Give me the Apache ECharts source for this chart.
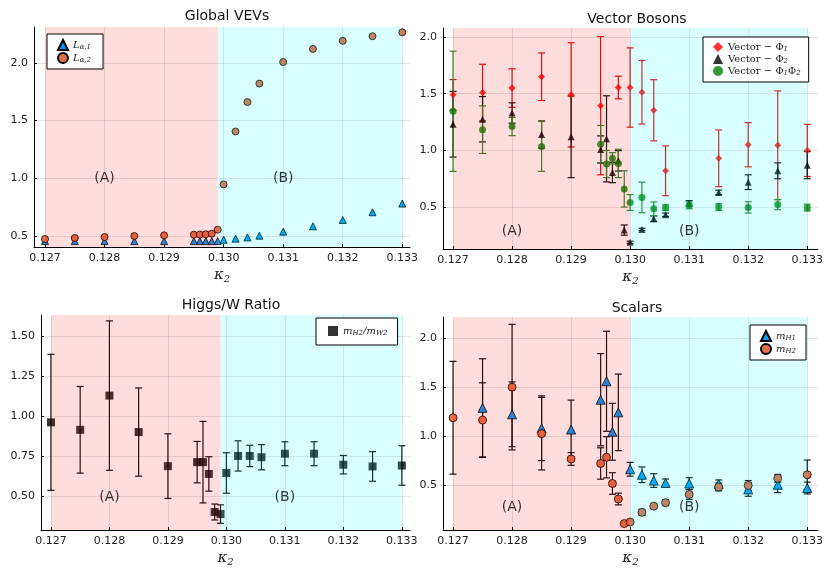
<!DOCTYPE html>
<html>
<head>
<meta charset="utf-8">
<script src="https://cdn.jsdelivr.net/npm/echarts@6/dist/echarts.min.js"></script>
<style>
  html, body { margin: 0; padding: 0; background: #ffffff; }
  #chart { width: 826px; height: 568px; }
</style>
</head>
<body>
<div id="chart"></div>
<script>
// kappa_2 values (shared by all panels)
const kappa = [0.127, 0.1275, 0.128, 0.1285, 0.129, 0.1295, 0.1296, 0.1297, 0.1298, 0.1299,
  0.130, 0.1302, 0.1304, 0.1306, 0.131, 0.1315, 0.132, 0.1325, 0.133];

// Global VEVs
const vevL1 = [0.456, 0.456, 0.456, 0.456, 0.456, 0.456, 0.456, 0.456, 0.456, 0.457,
  0.468, 0.477, 0.488, 0.503, 0.538, 0.584, 0.639, 0.706, 0.781];
const vevL2 = [0.474, 0.483, 0.491, 0.500, 0.506, 0.512, 0.513, 0.515, 0.520, 0.555,
  0.947, 1.405, 1.66, 1.82, 2.006, 2.12, 2.19, 2.23, 2.264];

// Vector bosons
const vecPhi1 = [1.49, 1.51, 1.55, 1.65, 1.49, 1.395, null, null, 1.555, null,
  1.555, 1.513, 1.354, 0.82, null, 0.93, 1.05, 1.045, 1.0];
const vecPhi1Err = [0.135, 0.25, 0.17, 0.21, 0.46, 0.61, null, null, 0.1, null,
  0.35, 0.28, 0.27, 0.22, null, 0.25, 0.195, 0.48, 0.23];
const vecPhi2 = [1.231, 1.275, 1.33, 1.14, 1.12, 1.008, 1.102, 0.805, 0.908, 0.297,
  0.189, 0.303, 0.397, 0.432, 0.532, 0.629, 0.72, 0.82, 0.87];
const vecPhi2Err = [0.29, 0.2, 0.09, 0.12, 0.36, 0.12, 0.38, 0.09, 0.09, 0.045,
  0.01, 0.01, 0.025, 0.015, 0.025, 0.02, 0.065, 0.07, 0.12];
const vecPhi12 = [1.345, 1.183, 1.21, 1.035, null, 1.055, 0.88, 0.93, 0.885, 0.66,
  0.54, 0.585, 0.485, 0.495, 0.515, 0.5, 0.497, 0.522, 0.495];
const vecPhi12Err = [0.53, 0.21, 0.08, 0.22, null, 0.165, 0.12, 0.05, 0.125, 0.16,
  0.07, 0.135, 0.06, 0.025, 0.03, 0.03, 0.05, 0.045, 0.03];

// Higgs/W ratio
const ratio = [0.961, 0.914, 1.129, 0.9, 0.686, 0.711, 0.711, 0.637, 0.398, 0.385,
  0.643, 0.75, 0.75, 0.742, 0.764, 0.764, 0.695, 0.684, 0.69];
const ratioErr = [0.427, 0.272, 0.469, 0.277, 0.203, 0.13, 0.256, 0.108, 0.05, 0.058,
  0.127, 0.095, 0.067, 0.079, 0.075, 0.075, 0.058, 0.093, 0.124];

// Scalars
const mH1 = [null, 1.291, 1.225, 1.083, 1.07, 1.374, 1.562, 1.047, 1.245, null,
  0.665, 0.609, 0.55, 0.526, 0.52, 0.516, 0.46, 0.507, 0.474];
const mH1Err = [null, 0.5, 0.33, 0.33, 0.3, 0.47, 0.51, 0.29, 0.39, null,
  0.07, 0.08, 0.07, 0.04, 0.06, 0.04, 0.07, 0.08, 0.06];
const mH2 = [1.19, 1.166, 1.502, 1.028, 0.77, 0.724, 0.787, 0.52, 0.362, 0.111,
  0.127, 0.226, 0.289, 0.325, 0.408, 0.484, 0.5, 0.573, 0.609];
const mH2Err = [0.575, 0.38, 0.64, 0.37, 0.065, 0.16, 0.21, 0.11, 0.06, 0.01,
  0.01, 0.03, 0.02, 0.03, 0.05, 0.04, 0.05, 0.04, 0.15];

// ticks
const xTicks = [0.127, 0.128, 0.129, 0.130, 0.131, 0.132, 0.133];
const yTicksVev = [0.5, 1.0, 1.5, 2.0];
const yTicksVec = [0.5, 1.0, 1.5, 2.0];
const yTicksRatio = [0.50, 0.75, 1.00, 1.25, 1.50];
const yTicksScal = [0.5, 1.0, 1.5, 2.0];

// phase regions [start, end] per panel
const regionsVev = [[0.127, 0.1299], [0.1299, 0.133]];
const regionsVec = [[0.127, 0.130], [0.130, 0.133]];
const regionsRatio = [[0.127, 0.1299], [0.1299, 0.133]];
const regionsScal = [[0.127, 0.130], [0.130, 0.133]];

const FONT = 'DejaVu Sans';
const SERIF = 'DejaVu Serif';

const points = (v) => kappa.map((k, i) => v[i] == null ? null : [k, v[i]]).filter(Boolean);
const bars = (v, e) => kappa.map((k, i) => v[i] == null ? null : [k, v[i] - e[i], v[i] + e[i]]).filter(Boolean);

const chart = echarts.init(document.getElementById('chart'));

const grids = [
  { left: 34, top: 27, width: 376, height: 220 },
  { left: 443, top: 28, width: 378, height: 221 },
  { left: 41, top: 315, width: 369, height: 220 },
  { left: 443, top: 317, width: 378, height: 220 }
];
const xRanges = [[0.126815, 0.13313], [0.12683, 0.13318], [0.12683, 0.13314], [0.12683, 0.13318]];
const yRanges = [[0.405, 2.31], [0.13, 2.08], [0.285, 1.635], [0.046, 2.217]];
const yTicks = [yTicksVev, yTicksVec, yTicksRatio, yTicksScal];
const yDigits = [1, 1, 2, 1];

const xAxes = grids.map((g, i) => ({
  type: 'value',
  gridIndex: i,
  min: xRanges[i][0],
  max: xRanges[i][1],
  name: '{k|κ}{s|2}',
  nameLocation: 'middle',
  nameGap: 19,
  nameTextStyle: {
    rich: {
      k: { fontFamily: SERIF, fontStyle: 'italic', fontSize: 15, color: '#222' },
      s: { fontFamily: SERIF, fontStyle: 'italic', fontSize: 10, color: '#222', padding: [8, 0, 0, 0] }
    }
  },
  axisLine: { show: true, onZero: false, lineStyle: { color: '#000', width: 1 } },
  axisTick: { show: true, inside: true, length: 3, customValues: xTicks, lineStyle: { color: '#000' } },
  axisLabel: {
    customValues: xTicks,
    formatter: v => v.toFixed(3),
    fontFamily: FONT, fontSize: 11, color: '#222', margin: 6
  },
  splitLine: { show: true, lineStyle: { color: 'rgba(0,0,0,0.1)', width: 1 } }
}));

const yAxes = grids.map((g, i) => ({
  type: 'value',
  gridIndex: i,
  min: yRanges[i][0],
  max: yRanges[i][1],
  axisLine: { show: true, onZero: false, lineStyle: { color: '#000', width: 1 } },
  axisTick: { show: true, inside: true, length: 3, customValues: yTicks[i], lineStyle: { color: '#000' } },
  axisLabel: {
    customValues: yTicks[i],
    formatter: v => v.toFixed(yDigits[i]),
    fontFamily: FONT, fontSize: 11, color: '#222', margin: 6
  },
  splitLine: { show: true, lineStyle: { color: 'rgba(0,0,0,0.1)', width: 1 } }
}));

// error bar renderer
const errorBars = (idx, data, color) => ({
  type: 'custom',
  xAxisIndex: idx, yAxisIndex: idx,
  data: data,
  encode: { x: 0, y: [1, 2] },
  silent: true,
  z: 2,
  renderItem: (params, api) => {
    const lo = api.coord([api.value(0), api.value(1)]);
    const hi = api.coord([api.value(0), api.value(2)]);
    const w = 3.5;
    const style = { stroke: color, lineWidth: 1.2 };
    return {
      type: 'group',
      children: [
        { type: 'line', shape: { x1: lo[0], y1: lo[1], x2: hi[0], y2: hi[1] }, style },
        { type: 'line', shape: { x1: lo[0] - w, y1: lo[1], x2: lo[0] + w, y2: lo[1] }, style },
        { type: 'line', shape: { x1: hi[0] - w, y1: hi[1], x2: hi[0] + w, y2: hi[1] }, style }
      ]
    };
  }
});

// shaded regions drawn on top (semi-transparent)
const regionColors = ['rgba(255,0,0,0.135)', 'rgba(0,255,255,0.15)'];
const regions = (idx, data) => ({
  type: 'custom',
  xAxisIndex: idx, yAxisIndex: idx,
  data: data.map((r, j) => [r[0], r[1], j]),
  encode: { x: [0, 1] },
  silent: true,
  z: 10,
  renderItem: (params, api) => {
    const y0 = yRanges[idx][0];
    const a = api.coord([api.value(0), y0]);
    const b = api.coord([api.value(1), y0]);
    return {
      type: 'rect',
      shape: { x: a[0], y: params.coordSys.y, width: b[0] - a[0], height: params.coordSys.height },
      style: { fill: regionColors[api.value(2)] }
    };
  }
});

const scatter = (idx, name, data, symbol, size, color, extra) => Object.assign({
  type: 'scatter',
  name: name,
  xAxisIndex: idx, yAxisIndex: idx,
  data: data,
  symbol: symbol,
  symbolSize: size,
  z: 3,
  itemStyle: { color: color, borderColor: '#000', borderWidth: 0.8, opacity: 1 }
}, extra || {});

const phaseLabels = (idx, y) => ({
  type: 'scatter',
  xAxisIndex: idx, yAxisIndex: idx,
  symbolSize: 0,
  silent: true,
  z: 12,
  data: [{ name: '(A)', value: [0.128, y] }, { name: '(B)', value: [0.131, y] }],
  label: { show: true, position: 'inside', formatter: '{b}', fontFamily: FONT, fontSize: 14, color: '#000' }
});

const legendRich = {
  m: { fontFamily: SERIF, fontStyle: 'italic', fontSize: 10, color: '#222' },
  s: { fontFamily: SERIF, fontStyle: 'italic', fontSize: 7, color: '#222', padding: [5, 0, 0, 0] },
  r: { fontFamily: SERIF, fontSize: 10, color: '#222' }
};
const legendText = {
  'L1': '{m|L}{s|α,1}',
  'L2': '{m|L}{s|α,2}',
  'V1': '{r|Vector − Φ}{s|1}',
  'V2': '{r|Vector − Φ}{s|2}',
  'V12': '{r|Vector − Φ}{s|1}{r|Φ}{s|2}',
  'R': '{m|m}{s|H2}{m|/m}{s|W2}',
  'H1': '{m|m}{s|H1}',
  'H2': '{m|m}{s|H2}'
};
const legend = (names, left, top, gap, pad) => ({
  data: names,
  orient: 'vertical',
  left: left, top: top,
  backgroundColor: '#fff',
  borderColor: '#000',
  borderWidth: 1,
  padding: pad,
  itemGap: gap,
  itemWidth: 10, itemHeight: 10,
  selectedMode: false,
  formatter: n => legendText[n],
  textStyle: { rich: legendRich },
  z: 20
});

const titleStyle = { fontFamily: FONT, fontSize: 14, fontWeight: 'normal', color: '#111' };

const option = {
  backgroundColor: '#ffffff',
  animation: false,
  title: [
    { text: 'Global VEVs', left: 222, top: 4, textAlign: 'center', textStyle: titleStyle },
    { text: 'Vector Bosons', left: 632, top: 7, textAlign: 'center', textStyle: titleStyle },
    { text: 'Higgs/W Ratio', left: 226, top: 293, textAlign: 'center', textStyle: titleStyle },
    { text: 'Scalars', left: 632, top: 296, textAlign: 'center', textStyle: titleStyle }
  ],
  grid: grids,
  xAxis: xAxes,
  yAxis: yAxes,
  legend: [
    legend(['L1', 'L2'], 47, 34, 1, [5, 12, 5, 10]),
    legend(['V1', 'V2', 'V12'], 703, 37, 1, [5, 8, 5, 10]),
    legend(['R'], 316, 318, 0, [8, 10, 8, 12]),
    legend(['H1', 'H2'], 750, 325, 1, [5, 10, 5, 10])
  ],
  series: [
    // Global VEVs
    scatter(0, 'L1', points(vevL1), 'triangle', 7, '#009AFA'),
    scatter(0, 'L2', points(vevL2), 'circle', 7, '#E36F47'),
    regions(0, regionsVev),
    phaseLabels(0, 1.0),

    // Vector bosons
    errorBars(1, bars(vecPhi1, vecPhi1Err), '#e01010'),
    errorBars(1, bars(vecPhi2, vecPhi2Err), '#111'),
    errorBars(1, bars(vecPhi12, vecPhi12Err), '#2a8a2a'),
    scatter(1, 'V1', points(vecPhi1), 'diamond', 7, '#FF0000', { itemStyle: { color: '#FF0000', borderWidth: 0 } }),
    scatter(1, 'V2', points(vecPhi2), 'triangle', 7, '#000000', { itemStyle: { color: '#000000', borderWidth: 0 } }),
    scatter(1, 'V12', points(vecPhi12), 'circle', 7, '#008000', { itemStyle: { color: '#008000', borderWidth: 0 } }),
    regions(1, regionsVec),
    phaseLabels(1, 0.29),

    // Higgs/W ratio
    errorBars(2, bars(ratio, ratioErr), '#111'),
    scatter(2, 'R', points(ratio), 'rect', 8, '#000000', { itemStyle: { color: '#000000', borderWidth: 0 } }),
    regions(2, regionsRatio),
    phaseLabels(2, 0.49),

    // Scalars
    errorBars(3, bars(mH1, mH1Err), '#111'),
    errorBars(3, bars(mH2, mH2Err), '#111'),
    scatter(3, 'H1', points(mH1), 'triangle', 9, '#009AFA'),
    scatter(3, 'H2', points(mH2), 'circle', 8, '#E36F47'),
    regions(3, regionsScal),
    phaseLabels(3, 0.28)
  ]
};

chart.setOption(option);
</script>
</body>
</html>
